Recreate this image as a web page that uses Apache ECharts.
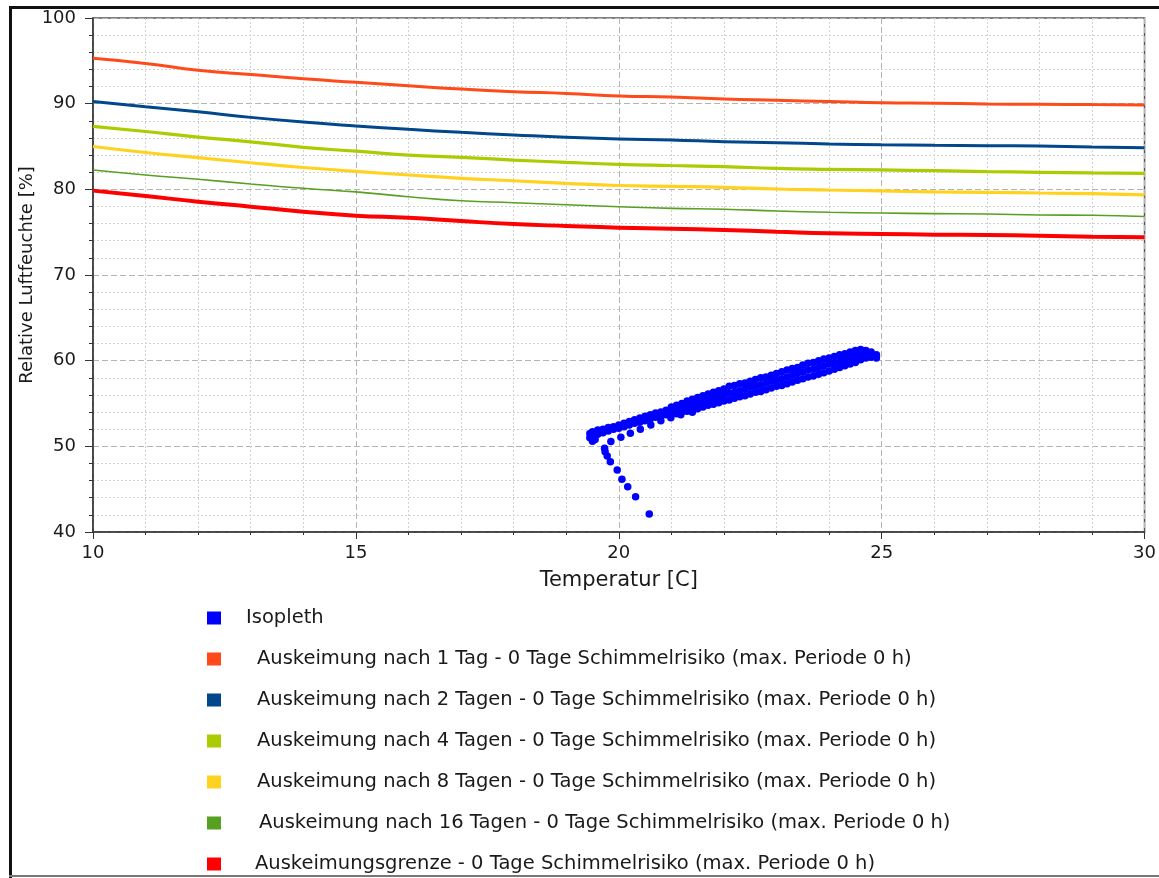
<!DOCTYPE html>
<html>
<head>
<meta charset="utf-8">
<script src="https://cdn.jsdelivr.net/npm/echarts@6/dist/echarts.min.js"></script>
<style>
html,body{margin:0;padding:0;background:#fff;overflow:hidden;}
#chart{width:1159px;height:878px;}
</style>
</head>
<body>
<div id="chart"></div>
<script>
// ---------- data ----------
var lineTemps = [10,11,12,13,14,15,16,17,18,19,20,21,22,23,24,25,26,27,28,29,30];
var rh1Tag   = [95.3,94.7,93.9,93.4,92.9,92.5,92.1,91.7,91.4,91.2,90.9,90.78,90.55,90.4,90.25,90.1,90.05,89.97,89.93,89.9,89.85];
var rh2Tage  = [90.25,89.65,89.05,88.4,87.85,87.4,87.0,86.65,86.35,86.07,85.88,85.76,85.56,85.45,85.3,85.2,85.14,85.1,85.05,84.95,84.86];
var rh4Tage  = [87.35,86.75,86.1,85.55,84.9,84.45,84.0,83.74,83.42,83.15,82.92,82.78,82.65,82.45,82.34,82.26,82.18,82.07,81.99,81.91,81.87];
var rh8Tage  = [85.0,84.3,83.7,83.1,82.55,82.1,81.67,81.28,81.0,80.7,80.45,80.35,80.24,80.04,79.92,79.81,79.7,79.65,79.57,79.49,79.36];
var rh16Tage = [82.25,81.67,81.17,80.62,80.12,79.7,79.14,78.67,78.44,78.2,77.97,77.78,77.67,77.47,77.32,77.24,77.16,77.12,77.0,76.97,76.82];
var rhGrenze = [79.85,79.22,78.56,77.98,77.39,76.93,76.69,76.3,75.95,75.72,75.52,75.4,75.25,75.06,74.87,74.79,74.71,74.67,74.59,74.47,74.4];

// Isopleth: main band (upper / middle / lower edge readings)
var isoTemps = [19.5,19.6,19.7,19.8,19.9,20.0,20.1,20.2,20.3,20.4,20.5,20.6,20.7,20.8,20.9,21.0,21.1,21.2,21.3,21.4,21.5,21.6,21.7,21.8,21.9,22.0,22.1,22.2,22.3,22.4,22.5,22.6,22.7,22.8,22.9,23.0,23.1,23.2,23.3,23.4,23.5,23.6,23.7,23.8,23.9,24.0,24.1,24.2,24.3,24.4,24.5,24.6,24.7,24.8,24.9];
var isoRhTop = [51.7,51.9,52.0,52.2,52.3,52.5,52.7,52.9,53.1,53.3,53.5,53.7,53.9,54.0,54.2,54.6,54.8,55.0,55.3,55.5,55.7,55.9,56.1,56.3,56.5,56.7,57.0,57.1,57.3,57.4,57.6,57.8,58.0,58.1,58.3,58.5,58.7,58.9,59.1,59.2,59.5,59.7,59.8,60.0,60.2,60.3,60.5,60.7,60.8,61.0,61.2,61.3,61.2,61.0,60.7];
var isoRhMid = [51.3,51.6,51.8,52.0,52.1,52.3,52.5,52.7,52.9,53.0,53.2,53.4,53.6,53.8,54.0,54.1,54.3,54.5,54.7,54.9,55.1,55.2,55.4,55.6,55.8,56.0,56.2,56.3,56.5,56.7,56.9,57.0,57.2,57.4,57.6,57.7,57.9,58.1,58.3,58.5,58.7,58.9,59.0,59.2,59.4,59.6,59.7,59.9,60.1,60.3,60.5,60.7,60.8,60.7,60.5];
var isoRhBot = [50.9,51.4,51.6,51.8,52.0,52.1,52.3,52.5,52.7,52.8,53.0,53.2,53.4,53.5,53.7,53.7,53.8,54.0,54.1,54.3,54.4,54.6,54.8,54.9,55.1,55.3,55.4,55.6,55.8,55.9,56.1,56.3,56.4,56.6,56.8,57.0,57.1,57.3,57.5,57.7,57.9,58.1,58.2,58.4,58.6,58.8,59.0,59.2,59.4,59.6,59.8,60.1,60.3,60.4,60.3];
// Isopleth: start blob
var isoBlobT  = [19.45,19.45,19.5,19.55];
var isoBlobRh = [51.0,51.5,50.6,50.8];
// Isopleth: separate dotted row below the band
var isoRowT  = [19.85,20.04,20.22,20.41,20.61,20.8,20.99,21.18,21.4];
var isoRowRh = [50.55,51.06,51.52,51.99,52.49,53.0,53.34,53.69,53.97];
// Isopleth: descending tail
var isoTailT  = [19.73,19.74,19.78,19.84,19.97,20.06,20.17,20.32,20.58];
var isoTailRh = [49.77,49.37,48.87,48.2,47.24,46.15,45.29,44.12,42.1];

var seriesNames = [
  'Isopleth',
  'Auskeimung nach 1 Tag - 0 Tage Schimmelrisiko (max. Periode 0 h)',
  'Auskeimung nach 2 Tagen - 0 Tage Schimmelrisiko (max. Periode 0 h)',
  'Auskeimung nach 4 Tagen - 0 Tage Schimmelrisiko (max. Periode 0 h)',
  'Auskeimung nach 8 Tagen - 0 Tage Schimmelrisiko (max. Periode 0 h)',
  'Auskeimung nach 16 Tagen - 0 Tage Schimmelrisiko (max. Periode 0 h)',
  'Auskeimungsgrenze - 0 Tage Schimmelrisiko (max. Periode 0 h)'
];
var xTicks = [10,15,20,25,30];
var yTicks = [40,50,60,70,80,90,100];

// ---------- build ----------
function pairs(xs, ys){ var o=[]; for(var i=0;i<xs.length;i++){ o.push([xs[i], ys[i]]); } return o; }
var isoData = [].concat(
  pairs(isoTemps, isoRhTop),
  pairs(isoTemps, isoRhMid),
  pairs(isoTemps, isoRhBot),
  pairs(isoBlobT, isoBlobRh),
  pairs(isoRowT, isoRowRh),
  pairs(isoTailT, isoTailRh)
);
var lineSets = [rh1Tag, rh2Tage, rh4Tage, rh8Tage, rh16Tage, rhGrenze];
var colors = ['#0000FF','#FF4A1C','#00478B','#AACC00','#FFD21F','#58A021','#FF0000'];
var widths = [0, 3, 3, 3.2, 3.2, 1.6, 4];
var textPad = [20, 31, 31, 31, 31, 33, 29];

var FONT = '"DejaVu Sans", Verdana, sans-serif';
var series = [{
  name: seriesNames[0], type: 'scatter', data: isoData,
  symbol: 'circle', symbolSize: 7.5,
  itemStyle: { color: colors[0], opacity: 1 }, z: 3
}];
for (var k=0;k<lineSets.length;k++){
  series.push({
    name: seriesNames[k+1], type: 'line', data: pairs(lineTemps, lineSets[k]),
    smooth: true, showSymbol: false, symbol: 'none',
    lineStyle: { color: colors[k+1], width: widths[k+1] },
    itemStyle: { color: colors[k+1] }, z: 2
  });
}
var legendData = seriesNames.map(function(n, i){
  return { name: n, icon: 'rect', itemStyle: { color: colors[i], opacity: 1 }, textStyle: { padding: [0,0,0,textPad[i]] } };
});

var chart = echarts.init(document.getElementById('chart'), null, { renderer: 'canvas' });
chart.setOption({
  animation: false,
  backgroundColor: '#ffffff',
  textStyle: { fontFamily: FONT },
  graphic: [
    { type: 'rect', shape: { x: 9, y: 6, width: 1160, height: 3 }, style: { fill: '#111' }, silent: true },
    { type: 'rect', shape: { x: 9, y: 6, width: 3, height: 880 }, style: { fill: '#111' }, silent: true },
    { type: 'rect', shape: { x: 9, y: 875, width: 1160, height: 2 }, style: { fill: '#777' }, silent: true }
  ],
  grid: { left: 93, width: 1056, top: 18, height: 514, show: true, borderColor: '#555', borderWidth: 1.5, backgroundColor: 'transparent' },
  legend: {
    orient: 'vertical', left: 202, top: 603, height: 300,
    itemWidth: 14, itemHeight: 13, itemGap: 21,
    selectedMode: false,
    data: legendData,
    textStyle: { fontFamily: FONT, fontSize: 19.5, color: '#1a1a1a' }
  },
  xAxis: {
    type: 'value', min: 10, max: 30, interval: 5,
    name: 'Temperatur [C]', nameLocation: 'middle', nameGap: 38, nameMoveOverlap: false,
    nameTextStyle: { fontFamily: FONT, fontSize: 21, color: '#1a1a1a' },
    axisLine: { show: true, onZero: false, lineStyle: { color: '#333', width: 1.5 } },
    axisTick: { show: true, length: 7, lineStyle: { color: '#333' } },
    minorTick: { show: true, splitNumber: 5, length: 3, lineStyle: { color: '#333' } },
    axisLabel: { fontFamily: FONT, fontSize: 18, color: '#1a1a1a', margin: 12,
      formatter: function(v){ return xTicks.indexOf(v) >= 0 ? String(v) : ''; } },
    splitLine: { show: true, lineStyle: { color: '#b4b4b4', type: [6,3], width: 1 } },
    minorSplitLine: { show: true, lineStyle: { color: '#d2d2d2', type: [2,2], width: 1 } }
  },
  yAxis: {
    type: 'value', min: 40, max: 100, interval: 10,
    name: 'Relative Luftfeuchte [%]', nameLocation: 'middle', nameGap: 57, nameMoveOverlap: false,
    nameTextStyle: { fontFamily: FONT, fontSize: 18, color: '#1a1a1a' },
    axisLine: { show: true, onZero: false, lineStyle: { color: '#333', width: 1.5 } },
    axisTick: { show: true, length: 8, lineStyle: { color: '#333' } },
    minorTick: { show: true, splitNumber: 5, length: 4, lineStyle: { color: '#333' } },
    axisLabel: { fontFamily: FONT, fontSize: 18, color: '#1a1a1a', margin: 17,
      formatter: function(v){ return yTicks.indexOf(v) >= 0 ? String(v) : ''; } },
    splitLine: { show: true, lineStyle: { color: '#b4b4b4', type: [6,3], width: 1 } },
    minorSplitLine: { show: true, lineStyle: { color: '#d2d2d2', type: [2,2], width: 1 } }
  },
  series: series
});
</script>
</body>
</html>
